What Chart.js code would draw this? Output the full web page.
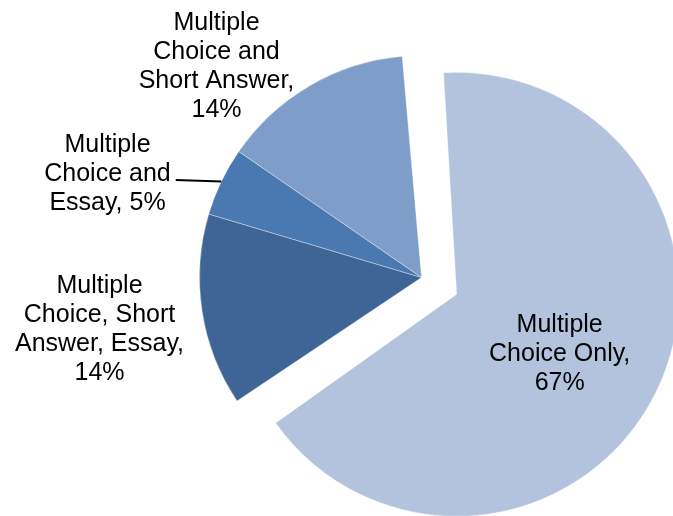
<!DOCTYPE html>
<html>
<head>
<meta charset="utf-8">
<script src="https://cdn.jsdelivr.net/npm/chart.js@4.4.1/dist/chart.umd.min.js"></script>
<style>
  html, body { margin: 0; padding: 0; background: #fff; }
  #wrap { width: 673px; height: 516px; }
</style>
</head>
<body>
<div id="wrap"><canvas id="myChart" width="673" height="516"></canvas></div>
<script>
// data
var labels = ["Multiple Choice Only", "Multiple Choice, Short Answer, Essay", "Multiple Choice and Essay", "Multiple Choice and Short Answer"];
var values = [67, 14, 5, 14];
// text of each label, line by line
var labelLines = [
    ["Multiple", "Choice Only,", "67%"],
    ["Multiple", "Choice, Short", "Answer, Essay,", "14%"],
    ["Multiple", "Choice and", "Essay, 5%"],
    ["Multiple", "Choice and", "Short Answer,", "14%"]
];
var colors = ["#b4c3dd", "#3e6596", "#4a78b0", "#7e9dc9"];

var pieRadius = 222;
var explode = 39; // px the first slice is pulled out

// where each label block sits, relative to its slice centre
var labelOffsets = [[103, 58], [-322, 50], [-314, -105], [-205, -213]];

// chart.js v4 moves an arc by offset/4 and also grows it by offset/4,
// so shrink the exploded arc back to the pie radius before drawing
var explodeFix = {
    id: 'explodeFix',
    beforeDatasetsDraw: function (chart) {
        var arcs = chart.getDatasetMeta(0).data;
        arcs[0].outerRadius = pieRadius - explode;
    }
};

var sliceLabels = {
    id: 'sliceLabels',
    afterDatasetsDraw: function (chart) {
        var ctx = chart.ctx;
        var arcs = chart.getDatasetMeta(0).data;
        var lineH = 29;
        ctx.save();
        ctx.font = "25px 'Liberation Sans', Arial, sans-serif";
        ctx.fillStyle = "#000";
        ctx.textAlign = "center";
        ctx.textBaseline = "alphabetic";
        for (var i = 0; i < arcs.length; i++) {
            var arc = arcs[i];
            var cx = arc.x, cy = arc.y;
            var off = (arc.options.offset || 0) / 4;
            var mid = (arc.startAngle + arc.endAngle) / 2;
            cx += Math.cos(mid) * off;
            cy += Math.sin(mid) * off;
            var lx = cx + labelOffsets[i][0];
            var ly = cy + labelOffsets[i][1];
            var lines = labelLines[i];
            for (var j = 0; j < lines.length; j++) {
                var by = ly + 8.5 + (j - (lines.length - 1) / 2) * lineH;
                ctx.fillText(lines[j], lx, by);
            }
            if (i == 2) {
                // leader line for the small slice
                var w = ctx.measureText(lines[1]).width;
                var sx = lx + w / 2 + 5;
                var sy = ly + 8.5 - 1;
                var ex = cx + Math.cos(mid) * arc.outerRadius;
                var ey = cy + Math.sin(mid) * arc.outerRadius;
                ctx.beginPath();
                ctx.moveTo(sx, sy);
                ctx.lineTo(ex, ey);
                ctx.strokeStyle = "#000";
                ctx.lineWidth = 2;
                ctx.stroke();
            }
        }
        ctx.restore();
    }
};

new Chart(document.getElementById("myChart"), {
    type: 'pie',
    data: {
        labels: labels,
        datasets: [
            {
                data: values,
                backgroundColor: colors,
                borderColor: "rgba(255,255,255,0.35)",
                borderWidth: 1,
                offset: [explode * 4, 0, 0, 0]
            }
        ]
    },
    options: {
        responsive: false,
        animation: false,
        rotation: -5,
        radius: pieRadius,
        layout: {
            padding: { left: 170, right: 0, top: 39, bottom: 0 }
        },
        plugins: {
            legend: { display: false },
            tooltip: { enabled: false }
        }
    },
    plugins: [explodeFix, sliceLabels]
});
</script>
</body>
</html>
